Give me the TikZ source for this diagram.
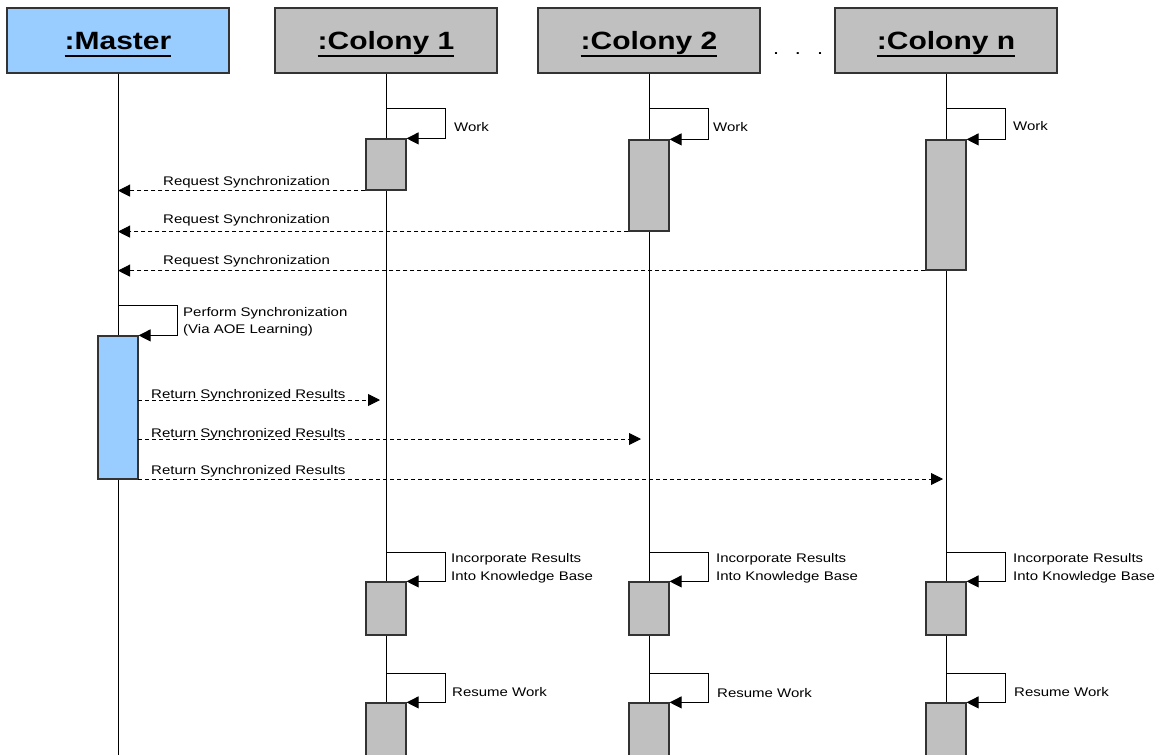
\documentclass[tikz,border=0pt]{standalone}
\usepackage{fontspec}
\usetikzlibrary{arrows.meta}
\newfontfamily\diagfont[FakeStretch=1.2]{Liberation Sans}
\definecolor{objblue}{HTML}{99CCFF}
\definecolor{objgray}{HTML}{C0C0C0}
\definecolor{edgegray}{HTML}{333333}
\newsavebox\titlebox
\newcommand\objtitle[1]{\sbox\titlebox{#1}\usebox\titlebox\llap{\rule[-7pt]{\wd\titlebox}{1.6pt}}}
\begin{document}
\begin{tikzpicture}[x=1pt,y=-1pt,
  head/.style={draw=edgegray, line width=1.2pt, rectangle, minimum width=222pt,
    minimum height=65pt, inner sep=0pt, text height=18pt, text depth=0pt,
    font=\diagfont\bfseries\fontsize{25}{30}\selectfont},
  act/.style={draw=edgegray, line width=1.2pt, fill=objgray, rectangle,
    minimum width=40pt, inner sep=0pt},
  life/.style={black, line width=0.9pt},
  msg/.style={black, line width=0.9pt, -{Triangle[length=12pt,width=12pt]}},
  reply/.style={msg, dash pattern=on 4pt off 3pt},
  lbl/.style={font=\diagfont\fontsize{12.5}{15}\selectfont, inner sep=0pt, anchor=base west}]
\clip (0,0) rectangle (1160,755);
\fill[white] (0,0) rectangle (1160,755);

% object headers
\node[head, fill=objblue] (master) at (118,40.5) {\objtitle{:Master}};
\node[head, fill=objgray] (col1) at (386,40.5) {\objtitle{:Colony 1}};
\node[head, fill=objgray] (col2) at (649,40.5) {\objtitle{:Colony 2}};
\node[head, fill=objgray] (coln) at (946,40.5) {\objtitle{:Colony n}};
\node[font=\diagfont\fontsize{18}{20}\selectfont, inner sep=0pt, anchor=base] (dots) at (798,54) {.\hspace{16pt}.\hspace{16pt}.};

% lifelines
\coordinate (mEnd) at (118,760);
\coordinate (c1End) at (386,760);
\coordinate (c2End) at (649,760);
\coordinate (cnEnd) at (946,760);
\draw[life] (master.south) -- (mEnd);
\draw[life] (col1.south) -- (c1End);
\draw[life] (col2.south) -- (c2End);
\draw[life] (coln.south) -- (cnEnd);

% activation bars
\node[act, minimum height=51pt] (c1a) at (386,164.5) {};
\node[act, minimum height=91pt] (c2a) at (649,185.5) {};
\node[act, minimum height=130pt] (cna) at (946,205) {};
\node[act, fill=objblue, minimum height=143pt] (ma) at (118,407.5) {};
\node[act, minimum height=53pt] (c1b) at (386,608.5) {};
\node[act, minimum height=53pt] (c2b) at (649,608.5) {};
\node[act, minimum height=53pt] (cnb) at (946,608.5) {};
\node[act, minimum height=60pt] (c1c) at (386,733) {};
\node[act, minimum height=60pt] (c2c) at (649,733) {};
\node[act, minimum height=60pt] (cnc) at (946,733) {};

% work phase
\coordinate (c1w) at (386,108);
\coordinate (c2w) at (649,108);
\coordinate (cnw) at (946,108);
\draw[msg] (c1w) -- ++(59,0) |- (c1a.north east);
\draw[msg] (c2w) -- ++(59,0) |- (c2a.north east);
\draw[msg] (cnw) -- ++(59,0) |- (cna.north east);
\node[lbl] (w1) at (454,131) {Work};
\node[lbl] (w2) at (713,131) {Work};
\node[lbl] (wn) at (1013,130) {Work};

% synchronization requests
\draw[reply] (c1a.south west) -- (c1a.south west -| mEnd);
\draw[reply] (c2a.south west) -- (c2a.south west -| mEnd);
\draw[reply] (cna.south west) -- (cna.south west -| mEnd);
\node[lbl] (rq1) at (163,185) {Request Synchronization};
\node[lbl] (rq2) at (163,223) {Request Synchronization};
\node[lbl] (rq3) at (163,264) {Request Synchronization};

% master synchronization
\coordinate (ms) at (118,305);
\draw[msg] (ms) -- ++(59,0) |- (ma.north east);
\node[lbl] (ps1) at (183,316) {Perform Synchronization};
\node[lbl] (ps2) at (183,333) {(Via AOE Learning)};

% results returned to colonies
\coordinate (r1s) at (138,400);
\coordinate (r1e) at (380,400);
\coordinate (r2s) at (138,439);
\coordinate (r2e) at (641,439);
\coordinate (r3s) at (138,479);
\coordinate (r3e) at (943,479);
\draw[reply] (r1s) -- (r1e);
\draw[reply] (r2s) -- (r2e);
\draw[reply] (r3s) -- (r3e);
\node[lbl] (rt1) at (151,398) {Return Synchronized Results};
\node[lbl] (rt2) at (151,437) {Return Synchronized Results};
\node[lbl] (rt3) at (151,474) {Return Synchronized Results};

% incorporate results
\coordinate (c1i) at (386,552);
\coordinate (c2i) at (649,552);
\coordinate (cni) at (946,552);
\draw[msg] (c1i) -- ++(59,0) |- (c1b.north east);
\draw[msg] (c2i) -- ++(59,0) |- (c2b.north east);
\draw[msg] (cni) -- ++(59,0) |- (cnb.north east);
\node[lbl] (ia1) at (451,562) {Incorporate Results};
\node[lbl] (ib1) at (451,580) {Into Knowledge Base};
\node[lbl] (ia2) at (716,562) {Incorporate Results};
\node[lbl] (ib2) at (716,580) {Into Knowledge Base};
\node[lbl] (ian) at (1013,562) {Incorporate Results};
\node[lbl] (ibn) at (1013,580) {Into Knowledge Base};

% resume work
\coordinate (c1r) at (386,673);
\coordinate (c2r) at (649,673);
\coordinate (cnr) at (946,673);
\draw[msg] (c1r) -- ++(59,0) |- (c1c.north east);
\draw[msg] (c2r) -- ++(59,0) |- (c2c.north east);
\draw[msg] (cnr) -- ++(59,0) |- (cnc.north east);
\node[lbl] (rw1) at (452,696) {Resume Work};
\node[lbl] (rw2) at (717,697) {Resume Work};
\node[lbl] (rwn) at (1014,696) {Resume Work};
\end{tikzpicture}
\end{document}
